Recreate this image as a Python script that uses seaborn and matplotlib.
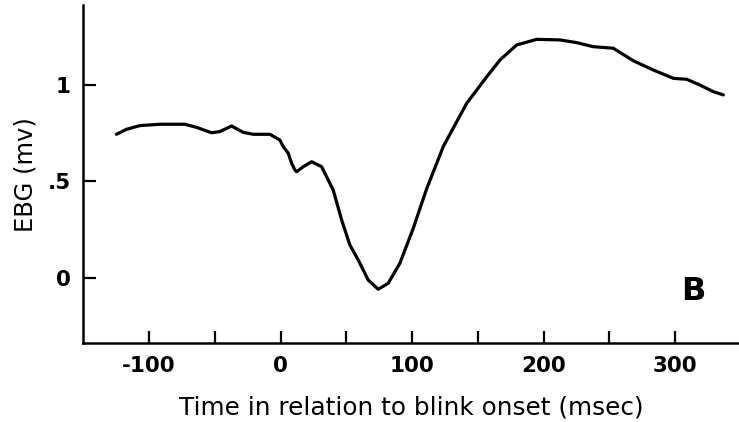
import matplotlib
matplotlib.use("Agg")
import matplotlib.pyplot as plt
import seaborn as sns
import pandas as pd

time_ms = [-124.8, -117.1, -107.0, -91.8, -72.8, -63.9, -52.5, -46.2, -37.3, -28.4,
           -20.8, -8.1, -0.5, 2.0, 5.8, 8.4, 10.9, 12.2, 17.2, 23.6,
           31.2, 40.0, 46.4, 52.7, 59.0, 66.6, 74.2, 81.8, 90.7, 100.8,
           111.0, 123.7, 141.5, 156.7, 166.8, 179.5, 194.7, 212.4, 225.1, 237.7,
           252.9, 268.2, 283.4, 298.6, 308.8, 318.9, 329.0, 336.6]
ebg_mv = [0.743, 0.769, 0.788, 0.795, 0.795, 0.779, 0.751, 0.757, 0.786, 0.753,
          0.743, 0.743, 0.713, 0.679, 0.645, 0.593, 0.558, 0.549, 0.575, 0.601,
          0.575, 0.454, 0.299, 0.169, 0.092, -0.012, -0.060, -0.029, 0.075, 0.255,
          0.460, 0.680, 0.904, 1.041, 1.128, 1.206, 1.235, 1.232, 1.218, 1.197,
          1.189, 1.124, 1.076, 1.033, 1.028, 0.998, 0.964, 0.947]

x_ticks = [-100, -50, 0, 50, 100, 150, 200, 250, 300]
x_ticklabels = ["-100", "", "0", "", "100", "", "200", "", "300"]
y_ticks = [0, 0.5, 1]
y_ticklabels = ["0", ".5", "1"]
x_label = "Time in relation to blink onset (msec)"
y_label = "EBG (mv)"
panel_label = "B"

sns.set_style("ticks")
plt.rcParams["font.family"] = ["DejaVu Sans"]
plt.rcParams["axes.unicode_minus"] = False
plt.rcParams["text.color"] = "black"
plt.rcParams["axes.labelcolor"] = "black"

fig = plt.figure(figsize=(7.39, 4.22), dpi=100)
ax = fig.add_axes([83.3 / 739, (422 - 343.3) / 422, (739 - 83.3) / 739, (343.3 - 5) / 422])

df = pd.DataFrame({"t": time_ms, "v": ebg_mv})
sns.lineplot(data=df, x="t", y="v", ax=ax, color="black", linewidth=2.3,
             solid_joinstyle="round", solid_capstyle="round")

ax.set_xlim(-150, 348.5)
ax.set_ylim(-0.34, 1.413)
ax.set_xticks(x_ticks)
ax.set_xticklabels(x_ticklabels)
ax.set_yticks(y_ticks)
ax.set_yticklabels(y_ticklabels)

for s in ["top", "right"]:
    ax.spines[s].set_visible(False)
for s in ["left", "bottom"]:
    ax.spines[s].set_linewidth(1.8)
    ax.spines[s].set_color("black")

ax.tick_params(axis="both", direction="in", length=9, width=1.6, colors="black",
               labelcolor="black", labelsize=15.5)
ax.tick_params(axis="x", pad=9)
ax.tick_params(axis="y", pad=9)
for lab in ax.get_xticklabels() + ax.get_yticklabels():
    lab.set_fontweight("bold")

ax.set_xlabel(x_label, fontsize=17.8, labelpad=14.5, color="black")
ax.set_ylabel(y_label, fontsize=17.5, labelpad=7, color="black")

ax.text(0.93, 0.1286, panel_label, transform=ax.transAxes, ha="center",
        va="baseline", fontsize=23, fontweight="bold", color="black")

fig.savefig("out.png", dpi=100)
